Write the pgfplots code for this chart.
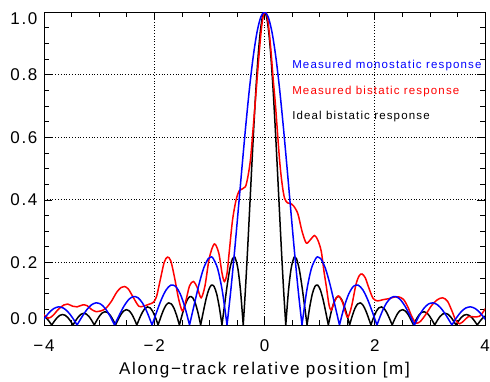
\documentclass[border=0pt]{standalone}
\usepackage{fontspec}
\setmainfont{Liberation Sans}[LetterSpace=10]
\usepackage{pgfplots}
\pgfplotsset{compat=1.18}
\definecolor{mblue}{RGB}{0,0,255}
\definecolor{mred}{RGB}{255,0,0}
\begin{document}
\begin{tikzpicture}
\begin{axis}[
  scale only axis, width=441pt, height=313pt,
  xmin=-4, xmax=4, ymin=0, ymax=1,
  xtick={-4,-2,0,2,4},
  xticklabels={−4,−2,0,2,4},
  ytick={0,0.2,0.4,0.6,0.8,1.0},
  yticklabels={\raisebox{6pt}[\height][\depth]{0.0},0.2,0.4,0.6,0.8,\raisebox{-7pt}[\height][\depth]{1.0}},
  minor x tick num=3, minor y tick num=3,
  major tick length=8pt, minor tick length=5pt,
  tick style={black, line width=0.6pt},
  axis line style={line width=0.9pt},
  grid=major,
  major grid style={black, line width=0.7pt, dash pattern=on 0.9pt off 1.9pt},
  ticklabel style={font=\fontsize{17}{19}\selectfont},
  xticklabel style={yshift=-11pt},
  yticklabel style={xshift=-3pt},
  /pgf/number format/assume math mode=true,
  xlabel={Along−track relative position [m]},
  label style={font=\fontsize{17}{19}\selectfont},
  xlabel style={yshift=-4pt},
  unbounded coords=jump,
]
% ideal bistatic response
\addplot[black, line width=1.5pt, smooth] coordinates {
(-4.053,0.0303) (-4.0048,0.0283) (-3.9565,0.0220) (-3.9083,0.0120) (-3.86,0) (-3.86,nan)
(-3.86,0) (-3.8118,0.0123) (-3.7635,0.0231) (-3.7153,0.0306) (-3.667,0.0335) (-3.6188,0.0314) (-3.5705,0.0243) (-3.5223,0.0133) (-3.474,0) (-3.474,nan)
(-3.474,0) (-3.4258,0.0137) (-3.3775,0.0257) (-3.3293,0.0341) (-3.281,0.0374) (-3.2328,0.0351) (-3.1845,0.0273) (-3.1363,0.0150) (-3.088,0) (-3.088,nan)
(-3.088,0) (-3.0398,0.0155) (-2.9915,0.0290) (-2.9433,0.0386) (-2.895,0.0424) (-2.8468,0.0399) (-2.7985,0.0310) (-2.7503,0.0171) (-2.702,0) (-2.702,nan)
(-2.702,0) (-2.6538,0.0177) (-2.6055,0.0333) (-2.5573,0.0444) (-2.509,0.0490) (-2.4608,0.0461) (-2.4125,0.0360) (-2.3643,0.0199) (-2.316,0) (-2.316,nan)
(-2.316,0) (-2.2678,0.0207) (-2.2195,0.0391) (-2.1713,0.0523) (-2.123,0.0579) (-2.0748,0.0547) (-2.0265,0.0429) (-1.9783,0.0238) (-1.93,0) (-1.93,nan)
(-1.93,0) (-1.8818,0.0250) (-1.8335,0.0474) (-1.7853,0.0636) (-1.737,0.0707) (-1.6888,0.0672) (-1.6405,0.0530) (-1.5923,0.0295) (-1.544,0) (-1.544,nan)
(-1.544,0) (-1.4958,0.0314) (-1.4475,0.0600) (-1.3993,0.0811) (-1.351,0.0909) (-1.3028,0.0871) (-1.2545,0.0693) (-1.2063,0.0390) (-1.158,0) (-1.158,nan)
(-1.158,0) (-1.1098,0.0424) (-1.0615,0.0819) (-1.0133,0.1120) (-0.965,0.1273) (-0.9168,0.1238) (-0.8685,0.1000) (-0.8203,0.0573) (-0.772,0) (-0.772,nan)
(-0.772,0) (-0.7238,0.0650) (-0.6755,0.1286) (-0.6273,0.1810) (-0.579,0.2122) (-0.552,0.2172) (-0.5308,0.2139) (-0.4825,0.1801) (-0.4343,0.1083) (-0.386,0) (-0.386,nan)
(-0.386,0) (-0.3474,0.1093) (-0.3088,0.2339) (-0.2702,0.3679) (-0.2316,0.5046) (-0.193,0.6366) (-0.1544,0.7568) (-0.1158,0.8584) (-0.0772,0.9355) (-0.0386,0.9836) (0,1)
(0.0386,0.9836) (0.0772,0.9355) (0.1158,0.8584) (0.1544,0.7568) (0.193,0.6366) (0.2316,0.5046) (0.2702,0.3679) (0.3088,0.2339) (0.3474,0.1093) (0.386,0) (0.386,nan)
(0.386,0) (0.4343,0.1083) (0.4825,0.1801) (0.5308,0.2139) (0.552,0.2172) (0.579,0.2122) (0.6273,0.1810) (0.6755,0.1286) (0.7238,0.0650) (0.772,0) (0.772,nan)
(0.772,0) (0.8203,0.0573) (0.8685,0.1000) (0.9168,0.1238) (0.965,0.1273) (1.0133,0.1120) (1.0615,0.0819) (1.1098,0.0424) (1.158,0) (1.158,nan)
(1.158,0) (1.2063,0.0390) (1.2545,0.0693) (1.3028,0.0871) (1.351,0.0909) (1.3993,0.0811) (1.4475,0.0600) (1.4958,0.0314) (1.544,0) (1.544,nan)
(1.544,0) (1.5923,0.0295) (1.6405,0.0530) (1.6888,0.0672) (1.737,0.0707) (1.7853,0.0636) (1.8335,0.0474) (1.8818,0.0250) (1.93,0) (1.93,nan)
(1.93,0) (1.9783,0.0238) (2.0265,0.0429) (2.0748,0.0547) (2.123,0.0579) (2.1713,0.0523) (2.2195,0.0391) (2.2678,0.0207) (2.316,0) (2.316,nan)
(2.316,0) (2.3643,0.0199) (2.4125,0.0360) (2.4608,0.0461) (2.509,0.0490) (2.5573,0.0444) (2.6055,0.0333) (2.6538,0.0177) (2.702,0) (2.702,nan)
(2.702,0) (2.7503,0.0171) (2.7985,0.0310) (2.8468,0.0399) (2.895,0.0424) (2.9433,0.0386) (2.9915,0.0290) (3.0398,0.0155) (3.088,0) (3.088,nan)
(3.088,0) (3.1363,0.0150) (3.1845,0.0273) (3.2328,0.0351) (3.281,0.0374) (3.3293,0.0341) (3.3775,0.0257) (3.4258,0.0137) (3.474,0) (3.474,nan)
(3.474,0) (3.5223,0.0133) (3.5705,0.0243) (3.6188,0.0314) (3.667,0.0335) (3.7153,0.0306) (3.7635,0.0231) (3.8118,0.0123) (3.86,0) (3.86,nan)
(3.86,0) (3.9083,0.0120) (3.9565,0.0220) (4.0048,0.0283) (4.053,0.0303)
};
% measured bistatic response
\addplot[mred, line width=1.5pt, smooth] coordinates {
(-4.06,0.040) (-4.00,0.032) (-3.92,0.022) (-3.84,0.030) (-3.74,0.050) (-3.64,0.064) (-3.57,0.067) (-3.48,0.060) (-3.40,0.058) (-3.30,0.064) (-3.22,0.062) (-3.14,0.050) (-3.06,0.043) (-2.97,0.045) (-2.88,0.053) (-2.78,0.075) (-2.68,0.105) (-2.60,0.120) (-2.54,0.123) (-2.47,0.115) (-2.38,0.088) (-2.28,0.060) (-2.20,0.060) (-2.10,0.066) (-2.02,0.072) (-1.96,0.090) (-1.89,0.145) (-1.82,0.200) (-1.76,0.217) (-1.70,0.205) (-1.63,0.150) (-1.56,0.085) (-1.49,0.045) (-1.43,0.075) (-1.36,0.125) (-1.29,0.139) (-1.22,0.120) (-1.15,0.087) (-1.08,0.125) (-1.00,0.215) (-0.91,0.259) (-0.83,0.230) (-0.77,0.165) (-0.727,0.139) (-0.68,0.165) (-0.636,0.240) (-0.58,0.335) (-0.515,0.400) (-0.455,0.430) (-0.40,0.435) (-0.345,0.442) (-0.30,0.475) (-0.255,0.528) (-0.21,0.620) (-0.164,0.720) (-0.11,0.840) (-0.06,0.940) (-0.02,0.990) (0.02,1.000) (0.06,0.975) (0.11,0.890) (0.16,0.780) (0.20,0.700) (0.273,0.528) (0.32,0.450) (0.364,0.405) (0.42,0.390) (0.48,0.388) (0.53,0.380) (0.606,0.355) (0.68,0.300) (0.757,0.262) (0.83,0.272) (0.909,0.286) (0.97,0.270) (1.03,0.235) (1.08,0.170) (1.12,0.125) (1.17,0.065) (1.21,0.048) (1.27,0.075) (1.34,0.093) (1.41,0.075) (1.47,0.040) (1.515,0.025) (1.58,0.060) (1.66,0.130) (1.72,0.158) (1.77,0.163) (1.83,0.150) (1.90,0.115) (1.97,0.085) (2.05,0.077) (2.15,0.081) (2.25,0.084) (2.35,0.089) (2.43,0.090) (2.52,0.082) (2.60,0.058) (2.67,0.028) (2.75,0.006) (2.83,0.012) (2.93,0.035) (3.03,0.062) (3.13,0.080) (3.23,0.087) (3.32,0.076) (3.40,0.045) (3.47,0.015) (3.54,0.004) (3.62,0.014) (3.70,0.027) (3.80,0.026) (3.90,0.028) (3.98,0.045) (4.06,0.068)
};
% measured monostatic response
\addplot[mblue, line width=1.5pt, smooth] coordinates {
(-4.08,0) (-3.995,0.0207) (-3.91,0.0391) (-3.825,0.0523) (-3.74,0.0579) (-3.655,0.0547) (-3.57,0.0429) (-3.485,0.0238) (-3.40,0) (-3.40,nan)
(-3.40,0) (-3.315,0.0250) (-3.23,0.0474) (-3.145,0.0636) (-3.06,0.0707) (-2.975,0.0672) (-2.89,0.0530) (-2.805,0.0295) (-2.72,0) (-2.72,nan)
(-2.72,0) (-2.635,0.0314) (-2.55,0.0600) (-2.465,0.0811) (-2.38,0.0909) (-2.295,0.0871) (-2.21,0.0693) (-2.125,0.0390) (-2.04,0) (-2.04,nan)
(-2.04,0) (-1.955,0.0424) (-1.87,0.0819) (-1.785,0.1120) (-1.70,0.1273) (-1.615,0.1238) (-1.53,0.1000) (-1.445,0.0573) (-1.36,0) (-1.36,nan)
(-1.36,0) (-1.275,0.0650) (-1.19,0.1286) (-1.105,0.1810) (-1.02,0.2122) (-0.9724,0.2172) (-0.935,0.2139) (-0.85,0.1801) (-0.765,0.1083) (-0.68,0) (-0.68,nan)
(-0.68,0) (-0.612,0.1093) (-0.544,0.2339) (-0.476,0.3679) (-0.408,0.5046) (-0.34,0.6366) (-0.272,0.7568) (-0.204,0.8584) (-0.136,0.9355) (-0.068,0.9836) (0,1)
(0.068,0.9836) (0.136,0.9355) (0.204,0.8584) (0.272,0.7568) (0.34,0.6366) (0.408,0.5046) (0.476,0.3679) (0.544,0.2339) (0.612,0.1093) (0.68,0) (0.68,nan)
(0.68,0) (0.765,0.1083) (0.85,0.1801) (0.935,0.2139) (0.9724,0.2172) (1.02,0.2122) (1.105,0.1810) (1.19,0.1286) (1.275,0.0650) (1.36,0) (1.36,nan)
(1.36,0) (1.445,0.0573) (1.53,0.1000) (1.615,0.1238) (1.70,0.1273) (1.785,0.1120) (1.87,0.0819) (1.955,0.0424) (2.04,0) (2.04,nan)
(2.04,0) (2.125,0.0390) (2.21,0.0693) (2.295,0.0871) (2.38,0.0909) (2.465,0.0811) (2.55,0.0600) (2.635,0.0314) (2.72,0) (2.72,nan)
(2.72,0) (2.805,0.0295) (2.89,0.0530) (2.975,0.0672) (3.06,0.0707) (3.145,0.0636) (3.23,0.0474) (3.315,0.0250) (3.40,0) (3.40,nan)
(3.40,0) (3.485,0.0238) (3.57,0.0429) (3.655,0.0547) (3.74,0.0579) (3.825,0.0523) (3.91,0.0391) (3.995,0.0207) (4.08,0)
};
\node[anchor=base west, text=mblue, font=\fontsize{11.5}{13}\selectfont, inner sep=0pt] at (axis cs:0.50,0.819) {Measured monostatic response};
\node[anchor=base west, text=mred, font=\fontsize{11.5}{13}\selectfont, inner sep=0pt] at (axis cs:0.50,0.738) {Measured bistatic response};
\node[anchor=base west, text=black, font=\fontsize{11.5}{13}\selectfont, inner sep=0pt] at (axis cs:0.50,0.658) {Ideal bistatic response};
\end{axis}
\pgfresetboundingbox
\path ([xshift=-44pt,yshift=-56pt]current axis.south west) rectangle ([xshift=5pt,yshift=12pt]current axis.north east);
\end{tikzpicture}
\end{document}
